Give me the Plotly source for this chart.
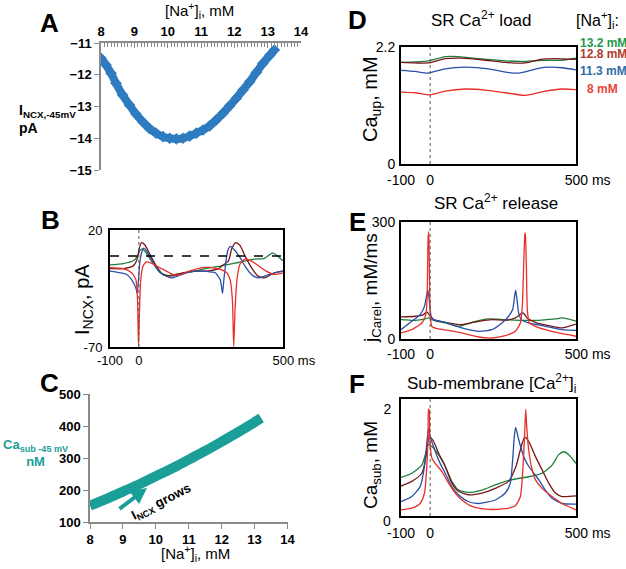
import plotly.graph_objects as go

W, H = 626, 569
FONT = "Liberation Sans, Arial, Helvetica, sans-serif"

# ---------------- data ----------------
# Panel A: I_NCX at -45 mV vs [Na+]i
A_na = [8.0, 8.15, 8.3, 8.45, 8.65, 8.85, 9.05, 9.25, 9.45, 9.65, 9.86, 10.06, 10.26,
        10.46, 10.66, 10.86, 11.06, 11.26, 11.46, 11.66, 11.86, 12.06, 12.26, 12.46,
        12.66, 12.86, 13.07, 13.2]
A_inc = [-11.48, -11.69, -11.95, -12.27, -12.64, -12.95, -13.24, -13.48, -13.69, -13.84,
         -13.95, -14.0, -14.02, -14.0, -13.93, -13.84, -13.74, -13.61, -13.42, -13.21,
         -12.98, -12.74, -12.48, -12.22, -11.93, -11.64, -11.38, -11.22]
A_xticks = [8, 9, 10, 11, 12, 13, 14]
A_yticks = [-15, -14, -13, -12, -11]

# Panel C: Ca_sub at -45 mV vs [Na+]i
C_na = [8.0, 8.5, 9.0, 9.5, 10.0, 10.5, 11.0, 11.5, 12.0, 12.5, 13.0, 13.2]
C_ca = [151, 172, 195, 218, 243, 268, 295, 322, 351, 381, 412, 425]
C_xticks = [8, 9, 10, 11, 12, 13, 14]
C_yticks = [100, 200, 300, 400, 500]

# Legend of [Na+]i levels
NA_LEVELS = ["13.2 mM", "12.8 mM", "11.3 mM", "8 mM"]

# Panel B: I_NCX traces (ms, pA)
B_red_t = [-100, -53.5, -25, -10.2, -4.6, -1.1, 2.3, 6.8, 14.8, 26.2, 43.3, 71.7, 105.9,
           134.3, 174.2, 219.7, 253.9, 282.4, 305.1, 316.5, 324.5, 329, 333.6, 340.4,
           350.7, 367.7, 384.8, 407.6, 441.7, 470.2, 500]
B_red_v = [-8.9, -9.7, -12.9, -18.2, -33.9, -69.5, -41.8, -18.2, -7.6, -4.5, -5.5, -8.9,
           -12.9, -15.0, -11.6, -8.9, -8.9, -10.3, -12.9, -18.2, -33.9, -69.5, -41.8,
           -18.2, -6.3, -2.4, -3.2, -6.3, -11.6, -14.2, -12.9]
B_blue_t = [-100, -64.9, -42.1, -25, -10.2, -5.7, -1.1, 3.4, 10.2, 17.1, 26.2, 43.3, 60.3,
            83.1, 111.6, 140, 174.2, 219.7, 253.9, 265.3, 282.4, 290.3, 294.9, 301.7,
            308.5, 317.6, 333.6, 350.7, 367.7, 390.5, 413.3, 436, 470.2, 500]
B_blue_v = [-11.6, -12.9, -14.2, -18.2, -24.7, -28.7, -18.2, -5.0, 2.9, 6.1, 4.2, -2.4,
            -8.9, -14.2, -16.8, -15.0, -12.4, -11.6, -12.4, -12.9, -18.2, -28.7, -18.2,
            -5.0, 4.2, 7.4, 4.2, -1.1, -7.6, -14.2, -16.8, -15.5, -12.9, -11.6]
B_maroon_t = [-100, -53.5, -19.4, -5.7, 1.1, 9.1, 20.5, 37.6, 60.3, 83.1, 111.6, 151.4,
              197, 231.1, 276.7, 288, 310.8, 322.2, 335.9, 350.7, 367.7, 390.5, 413.3,
              436, 470.2, 500]
B_maroon_v = [-9.7, -9.7, -7.6, -2.4, 5.5, 10.3, 8.7, 1.6, -7.6, -14.2, -15.5, -12.9,
              -11.6, -11.6, -9.7, -7.6, -3.7, 5.5, 10.3, 8.2, 0.3, -8.9, -15.5, -16.8,
              -12.9, -11.6]
B_green_t = [-100, -53.5, -19.4, -5.7, 3.4, 12.5, 23.9, 43.3, 71.7, 100.2, 128.7, 174.2,
             231.1, 288, 345, 401.9, 436, 464.5, 487.3, 500]
B_green_v = [-6.8, -5.8, -3.7, -0.5, 4.2, 5.5, 2.9, -3.7, -12.4, -15.0, -14.2, -12.4,
             -9.7, -7.6, -5.0, -2.4, -1.8, 2.4, -1.1, -3.7]

# Panel D: Ca_up (mM)
D_red_t = [-100, -51.5, 0, 51.5, 120.2, 188.9, 257.6, 326.3, 395, 452.3, 500]
D_red_v = [1.35, 1.34, 1.30, 1.37, 1.41, 1.39, 1.34, 1.29, 1.37, 1.41, 1.40]
D_blue_t = [-100, -51.5, -8, 51.5, 120.2, 200.4, 269.1, 303.4, 372.1, 406.5, 452.3, 500]
D_blue_v = [1.76, 1.74, 1.71, 1.79, 1.82, 1.79, 1.72, 1.71, 1.80, 1.82, 1.81, 1.77]
D_maroon_t = [-100, -51.5, -5.7, 51.5, 108.8, 177.5, 257.6, 326.3, 383.6, 429.4, 475.2, 500]
D_maroon_v = [1.91, 1.90, 1.90, 1.98, 1.99, 1.96, 1.91, 1.90, 1.97, 1.98, 1.97, 1.97]
D_green_t = [-100, -51.5, -5.7, 51.5, 97.3, 166, 257.6, 314.9, 383.6, 452.3, 500]
D_green_v = [1.91, 1.92, 1.94, 2.02, 2.02, 1.98, 1.94, 1.93, 1.95, 1.95, 1.99]

# Panel E: j_Carel (mM/ms)
E_red_t = [-100, -63, -28.6, -14.9, -10.3, -7.5, -5.7, -3.9, -1.5, 1.1, 5.7, 28.6, 63,
           108.8, 166, 211.8, 257.6, 292, 309.2, 316, 321, 324, 325.5, 327, 330, 333.2,
           340.1, 360.7, 395, 440.8, 500]
E_red_v = [15.4, 24, 41.1, 62.6, 110, 250, 275, 250, 110, 58.3, 32.6, 25.7, 22.3, 15.4,
           5.1, 2.6, 8.6, 19.7, 41.1, 85, 200, 262, 272, 262, 180, 75.4, 41.1, 32.6, 24,
           15.4, 7]
E_blue_t = [-100, -63, -34.4, -19.5, -12.6, -8, -2.3, 3.4, 11.5, 51.5, 108.8, 166, 211.8,
            246.2, 269.1, 282.8, 289.7, 293.1, 297.7, 303.4, 312.6, 337.8, 395, 452.3, 500]
E_blue_v = [24, 45.4, 62.6, 84, 109.7, 126.8, 92.6, 58.3, 49.7, 42.9, 28.3, 19.7, 24,
            41.1, 58.3, 75.4, 109.7, 125.1, 101, 66.8, 49.7, 41.1, 32.6, 24, 22]
E_maroon_t = [-100, -51.5, -22.9, -11.5, 0, 11.5, 51.5, 108.8, 166, 211.8, 257.6, 292,
              318.3, 332.1, 360.7, 406.5, 452.3, 500]
E_maroon_v = [56.6, 58.3, 62.6, 69.4, 58.3, 49.7, 42.9, 36.9, 45.4, 49.7, 48, 54, 66.8,
              54, 42.9, 34.3, 28.3, 38]
E_green_t = [-100, -51.5, -17.2, -5.7, 11.5, 51.5, 97.3, 143.1, 200.4, 257.6, 314.9,
             372.1, 429.4, 452.3, 500]
E_green_v = [49.7, 48, 51.4, 54, 48, 41.1, 32.6, 42.9, 51.4, 49.7, 48, 48, 51.4, 54, 46]

# Panel F: Ca_sub (mM)
F_red_t = [-100, -63, -34.4, -19.5, -11.5, -6.9, -5.7, -3.4, -1.1, 5.7, 17.2, 40.1, 63,
           85.9, 108.8, 143.1, 200.4, 257.6, 292, 309.2, 318.3, 324, 327.5, 330.9, 337.8,
           347, 360.7, 383.6, 417.9, 452.3, 500]
F_red_v = [0.26, 0.29, 0.37, 0.55, 1.01, 1.58, 1.99, 1.98, 1.47, 1.15, 1.06, 0.92, 0.72,
           0.55, 0.43, 0.32, 0.27, 0.28, 0.33, 0.49, 1.01, 1.58, 1.99, 1.70, 1.29, 1.01,
           0.78, 0.63, 0.49, 0.37, 0.26]
F_blue_t = [-100, -63, -34.4, -19.5, -11.5, -5.7, 0, 11.5, 28.6, 51.5, 74.4, 97.3, 131.7,
            166, 223.3, 257.6, 274.8, 282.8, 288.5, 293.1, 303.4, 320.6, 337.8, 372.1,
            395, 417.9, 452.3, 500]
F_blue_v = [0.40, 0.49, 0.66, 1.01, 1.41, 1.67, 1.52, 1.35, 1.12, 0.89, 0.66, 0.52, 0.40,
            0.37, 0.43, 0.55, 0.72, 1.12, 1.52, 1.68, 1.47, 1.18, 1.01, 0.78, 0.60, 0.46,
            0.37, 0.36]
F_maroon_t = [-100, -63, -28.6, -14.9, -5.7, -2.3, 11.5, 28.6, 51.5, 74.4, 97.3, 131.7,
              177.5, 223.3, 269.1, 294.3, 309.2, 324, 337.8, 360.7, 383.6, 406.5, 429.4,
              452.3, 500]
F_maroon_v = [0.67, 0.75, 0.89, 1.15, 1.49, 1.52, 1.44, 1.24, 1.01, 0.72, 0.58, 0.52,
              0.55, 0.63, 0.75, 1.01, 1.29, 1.51, 1.44, 1.18, 0.95, 0.72, 0.55, 0.49, 0.50]
F_green_t = [-100, -63, -28.6, -14.9, -5.7, 5.7, 28.6, 51.5, 74.4, 97.3, 131.7, 177.5,
             223.3, 280.5, 337.8, 383.6, 417.9, 440.8, 458, 475.2, 500]
F_green_v = [0.82, 0.89, 1.03, 1.24, 1.38, 1.35, 1.21, 1.01, 0.75, 0.60, 0.56, 0.60,
             0.69, 0.78, 0.83, 0.89, 1.03, 1.21, 1.26, 1.21, 1.06]

# ---------------- styling ----------------
RED = "#E8302A"
BLUE = "#2A4FA8"
MAROON = "#76171A"
GREEN = "#1F7F3B"
TEAL = "#1A9E98"
ABLUE = "#2E7BBF"
GRAY = "#8A8A8A"
LEG_COLORS = ["#1E9A48", "#B23A2E", "#2E6EA8", "#E8453A"]


def dx(a, b):
    return [a / W, b / W]


def dy(top, bot):
    return [1 - bot / H, 1 - top / H]


def PX(x):
    return x / W


def PY(y):
    return 1 - y / H


fig = go.Figure()

# Panel A
fig.add_trace(go.Scatter(x=A_na, y=A_inc, mode="lines+markers",
                         line=dict(color=ABLUE, width=8, shape="spline"),
                         marker=dict(symbol="diamond", size=9, color=ABLUE),
                         xaxis="x", yaxis="y", hoverinfo="skip"))
# Panel C
fig.add_trace(go.Scatter(x=C_na, y=C_ca, mode="lines",
                         line=dict(color=TEAL, width=10, shape="spline"),
                         xaxis="x3", yaxis="y3", hoverinfo="skip"))

panels = [
    ("x2", "y2", [(B_green_t, B_green_v, GREEN), (B_maroon_t, B_maroon_v, MAROON),
                  (B_blue_t, B_blue_v, BLUE), (B_red_t, B_red_v, RED)]),
    ("x4", "y4", [(D_green_t, D_green_v, GREEN), (D_maroon_t, D_maroon_v, MAROON),
                  (D_blue_t, D_blue_v, BLUE), (D_red_t, D_red_v, RED)]),
    ("x5", "y5", [(E_green_t, E_green_v, GREEN), (E_maroon_t, E_maroon_v, MAROON),
                  (E_blue_t, E_blue_v, BLUE), (E_red_t, E_red_v, RED)]),
    ("x6", "y6", [(F_green_t, F_green_v, GREEN), (F_maroon_t, F_maroon_v, MAROON),
                  (F_blue_t, F_blue_v, BLUE), (F_red_t, F_red_v, RED)]),
]
for xa, ya, series in panels:
    for t, v, c in series:
        fig.add_trace(go.Scatter(x=t, y=v, mode="lines",
                                 line=dict(color=c, width=1.3, shape="spline", smoothing=0.6),
                                 xaxis=xa, yaxis=ya, hoverinfo="skip"))

boldtick = dict(family=FONT, size=13, color="black", weight="bold")
pad = "\u00a0" * 6


def boxaxis(domain, anchor, rng, tickvals, ticktext, standoff, size=14):
    return dict(domain=domain, anchor=anchor, range=rng, showline=True, mirror=True,
                linecolor="black", linewidth=2, showgrid=False, zeroline=False,
                ticks="", tickvals=tickvals, ticktext=ticktext, automargin=False,
                tickfont=dict(family=FONT, size=size, color="black"),
                ticklabelstandoff=standoff)


tx = [-100, 0, 500]

layout = dict(
    width=W, height=H, margin=dict(l=0, r=0, t=0, b=0, autoexpand=False),
    paper_bgcolor="white", plot_bgcolor="white", showlegend=False,
    font=dict(family=FONT, color="black"),
    # Panel A
    xaxis=dict(domain=dx(101, 301), anchor="y", side="top", range=[8, 14],
               tickvals=A_xticks, ticks="inside", ticklen=5, tickcolor=GRAY,
               minor=dict(dtick=0.1, ticks="inside", ticklen=4, tickcolor=GRAY),
               showline=True, linecolor=GRAY, linewidth=1.5, showgrid=False,
               zeroline=False, tickfont=boldtick, automargin=False),
    yaxis=dict(domain=dy(43, 170), anchor="x", range=[-15, -11], tickvals=A_yticks,
               ticks="outside", ticklen=5, tickcolor=GRAY, showline=True,
               linecolor=GRAY, linewidth=1.5, showgrid=False, zeroline=False,
               tickfont=boldtick, automargin=False),
    # Panel B
    xaxis2=boxaxis(dx(110, 283), "y2", [-100, 500], tx, ["-100", "0", pad + "500 ms"], 0, 13),
    yaxis2=boxaxis(dy(230, 347), "x2", [-70, 20], [-70, 20], ["-70", "20"], 3, 13),
    # Panel C
    xaxis3=dict(domain=dx(90, 287.5), anchor="y3", range=[8, 14], tickvals=C_xticks,
                ticks="outside", ticklen=5, tickcolor=GRAY, showline=True,
                linecolor=GRAY, linewidth=1.5, showgrid=False, zeroline=False,
                tickfont=boldtick, automargin=False),
    yaxis3=dict(domain=dy(394, 522), anchor="x3", range=[100, 500], tickvals=C_yticks,
                ticks="outside", ticklen=5, tickcolor=GRAY, showline=True,
                linecolor=GRAY, linewidth=1.5, showgrid=False, zeroline=False,
                tickfont=boldtick, automargin=False),
    # Panel D
    xaxis4=boxaxis(dx(401, 576), "y4", [-100, 500], tx, ["-100", "0", pad + "500 ms"], 2),
    yaxis4=boxaxis(dy(47, 164), "x4", [0, 2.2], [0, 2.2], ["0", "2.2"], 1),
    # Panel E
    xaxis5=boxaxis(dx(401, 576), "y5", [-100, 500], tx, ["-100", "0", pad + "500 ms"], 1),
    yaxis5=boxaxis(dy(222, 339), "x5", [0, 300], [0, 300], ["0", "300"], 1),
    # Panel F
    xaxis6=boxaxis(dx(401, 576), "y6", [-100, 500], tx, ["-100", "0", pad + "500 ms"], 3),
    yaxis6=boxaxis(dy(399, 516), "x6", [0.155, 2.167], [2], ["2"], 5),
)
fig.update_layout(**layout)

# reference lines
shapes = []
for xa, ya in [("x2", "y2"), ("x4", "y4"), ("x5", "y5"), ("x6", "y6")]:
    shapes.append(dict(type="line", xref=xa, yref=ya + " domain", x0=0, x1=0, y0=0, y1=1,
                       line=dict(color="#555555", width=1, dash="dot")))
shapes.append(dict(type="line", xref="x2 domain", yref="y2", x0=0, x1=1, y0=0, y1=0,
                   line=dict(color="black", width=1.5, dash="dash")))
fig.update_layout(shapes=shapes)

ann = []


def text(x, y, s, size, color="black", xanchor="center", angle=0, align="center"):
    ann.append(dict(x=PX(x), y=PY(y), xref="paper", yref="paper", text=s, showarrow=False,
                    xanchor=xanchor, yanchor="middle", textangle=angle, align=align,
                    font=dict(family=FONT, size=size, color=color)))


# panel letters
for L, x, y in [("A", 49, 23), ("B", 50, 220), ("C", 49, 383), ("D", 357, 20),
                ("E", 357, 222), ("F", 357, 384)]:
    text(x, y, "<b>" + L + "</b>", 26)

# axis titles
text(199, 11, "[Na<sup>+</sup>]<sub>i</sub>, mM", 15)
text(195, 553, "[Na<sup>+</sup>]<sub>i</sub>, mM", 15)
text(17, 119, "<b>I<sub>NCX,-45mV</sub><br>pA</b>", 14, xanchor="left", align="left")
text(1, 453, "<b>Ca<sub>sub -45 mV</sub><br>nM</b>", 13, color=TEAL, xanchor="left")
text(83, 300, "I<sub>NCX</sub>, pA", 20, angle=-90)
text(372, 99, "Ca<sub>up</sub>, mM", 20, angle=-90)
text(372, 288, "j<sub>Carel</sub>, mM/ms", 19, angle=-90)
text(372, 465, "Ca<sub>sub</sub>, mM", 19, angle=-90)
text(387, 521, "0", 14)

# panel titles
text(481, 19, "SR Ca<sup>2+</sup> load", 17)
text(496, 202, "SR Ca<sup>2+</sup> release", 17)
text(491, 383, "Sub-membrane [Ca<sup>2+</sup>]<sub>i</sub>", 17)

# legend of [Na+]i
text(597, 20, "[Na<sup>+</sup>]<sub>i</sub>:", 16)
for lbl, col, y in zip(NA_LEVELS, LEG_COLORS, [43, 54, 71, 89]):
    if lbl == "8 mM":
        text(585, y, "<b>" + lbl + "</b>", 12, color=col, xanchor="left")
    else:
        text(578, y, "<b>" + lbl + "</b>", 12, color=col, xanchor="left")

# arrow in C
ann.append(dict(x=PX(147), y=PY(488), xref="paper", yref="paper", ax=-29, ay=22,
                axref="pixel", ayref="pixel", showarrow=True, arrowhead=2, arrowsize=0.8,
                arrowwidth=4, arrowcolor=TEAL, text=""))
text(161, 502, "<b>I<sub>NCX</sub> grows</b>", 13, angle=-27)

fig.update_layout(annotations=ann)

fig.write_html("out.html", config={"displayModeBar": False},
               post_script="document.body.style.margin='0px';")
